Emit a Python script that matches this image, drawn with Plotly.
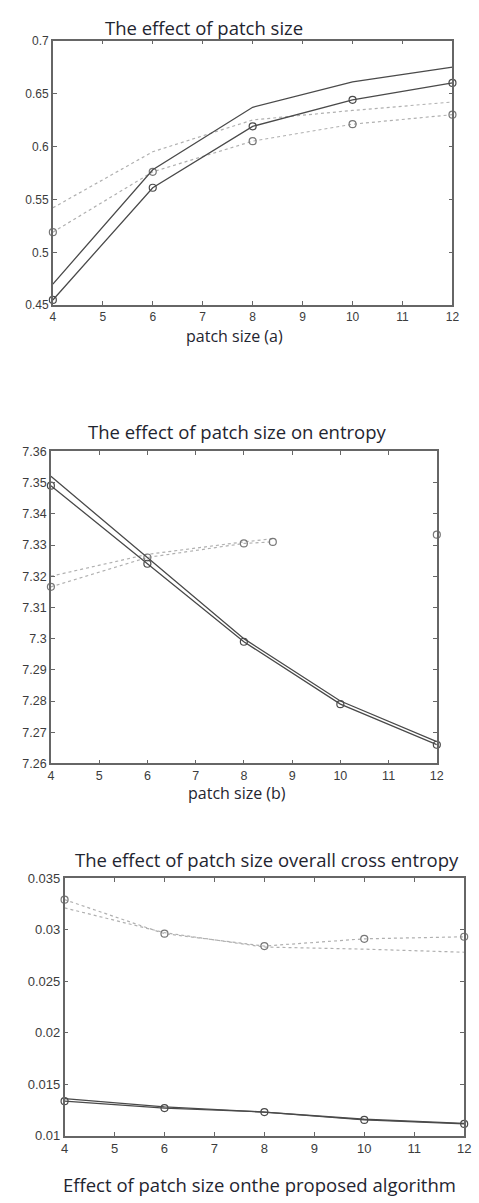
import plotly.graph_objects as go

W, H = 479, 1203

# ---------- data ----------
patch = [4, 6, 8, 10, 12]

# panel (a)
a_solid_upper = [0.470, 0.578, 0.637, 0.661, 0.675]
a_solid_lower = [0.455, 0.561, 0.619, 0.644, 0.660]
a_dot_upper = [0.542, 0.595, 0.625, 0.634, 0.642]
a_dot_lower = [0.519, 0.576, 0.605, 0.621, 0.630]

# panel (b)
b_solid_upper = [7.352, 7.326, 7.300, 7.280, 7.267]
b_solid_lower = [7.349, 7.324, 7.299, 7.279, 7.266]
b_dot_x = [4, 6, 8, 8.6]
b_dot_upper = [7.320, 7.327, 7.331, 7.332]
b_dot_lower_x = [4, 6, 8, 8.6, None, 12]
b_dot_lower = [7.3166, 7.326, 7.3305, 7.331, None, 7.3333]

# panel (c)
c_dot_marked = [0.0329, 0.0296, 0.0284, 0.0291, 0.0293]
c_dot_plain = [0.0321, 0.0297, 0.0283, 0.0281, 0.0278]
c_solid_marked = [0.01335, 0.01268, 0.0123, 0.01153, 0.01115]
c_solid_plain = [0.0136, 0.0128, 0.0123, 0.0116, 0.0112]

xticks = list(range(4, 13))
a_yticks = [0.45, 0.5, 0.55, 0.6, 0.65, 0.7]
a_yticklabels = ["0.45", "0.5", "0.55", "0.6", "0.65", "0.7"]
b_yticks = [7.26, 7.27, 7.28, 7.29, 7.30, 7.31, 7.32, 7.33, 7.34, 7.35, 7.36]
b_yticklabels = ["7.26", "7.27", "7.28", "7.29", "7.3", "7.31", "7.32", "7.33", "7.34", "7.35", "7.36"]
c_yticks = [0.01, 0.015, 0.02, 0.025, 0.03, 0.035]
c_yticklabels = ["0.01", "0.015", "0.02", "0.025", "0.03", "0.035"]

titles = ["The effect of patch size",
          "The effect of patch size on entropy",
          "The effect of patch size overall cross entropy"]
xlabels = ["patch size (a)", "patch size (b)"]
caption = "Effect of patch size onthe proposed algorithm"

# ---------- styles ----------
SOLID = "#4a4a4a"
DOT = "#b0b0b0"
TXT = "#1f2530"
TITLE_FONT = dict(family="Open Sans", size=18.5, color=TXT)
XLAB_FONT = dict(family="Open Sans", size=16, color=TXT)

fig = go.Figure()

def px_x(p):
    return p / W

def px_y(p):
    return 1 - p / H

boxes = [(50, 459, 34, 302), (48, 443, 450, 766), (62, 471, 882, 1143)]
tick_sizes = [12, 12.5, 13]

def add(x, y, axis, color, dash, marker):
    fig.add_trace(go.Scatter(
        x=x, y=y, xaxis="x" + axis, yaxis="y" + axis,
        mode="lines+markers" if marker else "lines",
        line=dict(color=color, width=1.3 if dash == "solid" else 1.2, dash=dash),
        marker=dict(symbol="circle-open", size=7, color=SOLID if dash == "solid" else "#777777",
                    line=dict(width=1.2)),
        cliponaxis=False,
        connectgaps=False, showlegend=False, hoverinfo="skip"))

# panel a
add(patch, a_dot_upper, "", DOT, "dot", False)
add(patch, a_dot_lower, "", DOT, "dot", True)
add(patch, a_solid_upper, "", SOLID, "solid", False)
add(patch, a_solid_lower, "", SOLID, "solid", True)
# panel b
add(b_dot_x, b_dot_upper, "2", DOT, "dot", False)
add(b_dot_lower_x, b_dot_lower, "2", DOT, "dot", True)
add(patch, b_solid_upper, "2", SOLID, "solid", False)
add(patch, b_solid_lower, "2", SOLID, "solid", True)
# panel c
add(patch, c_dot_plain, "3", DOT, "dot", False)
add(patch, c_dot_marked, "3", DOT, "dot", True)
add(patch, c_solid_plain, "3", SOLID, "solid", False)
add(patch, c_solid_marked, "3", SOLID, "solid", True)

yinfo = [(a_yticks, a_yticklabels, [0.45, 0.7]),
         (b_yticks, b_yticklabels, [7.26, 7.36]),
         (c_yticks, c_yticklabels, [0.01, 0.035])]

layout = dict(width=W, height=H, margin=dict(l=0, r=0, t=0, b=0),
              paper_bgcolor="white", plot_bgcolor="white", hovermode=False)
for i, (x0, x1, y0, y1) in enumerate(boxes):
    s = "" if i == 0 else str(i + 1)
    tv, tt, rng = yinfo[i]
    tf = dict(family="Liberation Sans, Arial", size=tick_sizes[i], color="#3c3c3c")
    layout["xaxis" + s] = dict(
        domain=[px_x(x0), px_x(x1)], range=[4, 12], anchor="y" + s,
        tickvals=xticks, ticktext=[str(v) for v in xticks],
        ticks="inside", ticklen=4, tickcolor="#666", mirror="ticks",
        showline=True, linecolor="#666", linewidth=1.5, showgrid=False,
        zeroline=False, tickfont=tf, ticklabeloverflow="allow")
    layout["yaxis" + s] = dict(
        domain=[px_y(y1), px_y(y0)], range=rng, anchor="x" + s,
        tickvals=tv, ticktext=tt,
        ticks="inside", ticklen=4, tickcolor="#666", mirror="ticks",
        showline=True, linecolor="#666", linewidth=1.5, showgrid=False,
        zeroline=False, tickfont=tf, ticklabeloverflow="allow")

annotations = []
title_pos = [(205, 21), (239, 430), (269, 863)]
for t, (cx, cy) in zip(titles, title_pos):
    annotations.append(dict(text=t, x=px_x(cx), y=px_y(cy), xref="paper", yref="paper",
                            showarrow=False, xanchor="center", yanchor="middle", font=TITLE_FONT))
xl_pos = [(236, 333), (238, 796)]
for t, (cx, cy) in zip(xlabels, xl_pos):
    annotations.append(dict(text=t, x=px_x(cx), y=px_y(cy), xref="paper", yref="paper",
                            showarrow=False, xanchor="center", yanchor="middle", font=XLAB_FONT))
annotations.append(dict(text=caption, x=px_x(262), y=px_y(1192), xref="paper", yref="paper",
                        showarrow=False, xanchor="center", yanchor="middle", font=TITLE_FONT))
layout["annotations"] = annotations

fig.update_layout(**layout)
fig.write_html("out.html", config={"displayModeBar": False},
               post_script="document.body.style.margin='0';")
